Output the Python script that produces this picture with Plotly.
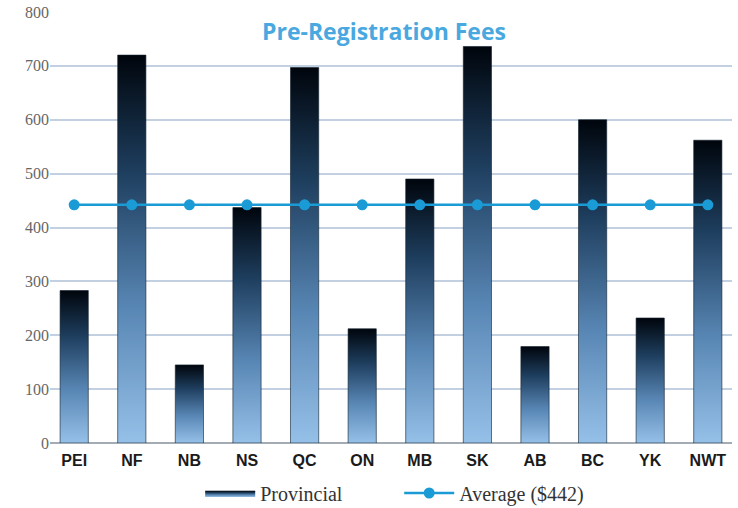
import plotly.graph_objects as go

categories = ["PEI", "NF", "NB", "NS", "QC", "ON", "MB", "SK", "AB", "BC", "YK", "NWT"]
provincial = [283, 720, 145, 437, 697, 212, 490, 736, 179, 600, 232, 562]
average_value = 442
average = [average_value] * len(categories)
y_ticks = [0, 100, 200, 300, 400, 500, 600, 700, 800]

bar_width = 0.49
gradient = [[0, "#95c0e8"], [0.35, "#5886b4"], [0.7, "#1e3e5e"], [1, "#00050c"]]

fig = go.Figure()
for i, (cat, v) in enumerate(zip(categories, provincial)):
    x0, x1 = i - bar_width / 2, i + bar_width / 2
    fig.add_trace(go.Scatter(
        x=[x0, x1, x1, x0, x0], y=[0, 0, v, v, 0],
        mode="lines", fill="toself",
        line=dict(width=0.6, color="#10202e"),
        fillgradient=dict(type="vertical", colorscale=gradient),
        name="Provincial", legendgroup="prov", showlegend=(i == 0),
        hoverinfo="text", text=f"{cat}: ${v}",
    ))

fig.add_trace(go.Scatter(
    x=list(range(len(categories))), y=average,
    mode="lines+markers", name=f"Average (${average_value})",
    line=dict(color="#1b9bd6", width=2.5),
    marker=dict(color="#1b9bd6", size=11),
))

plot_top, plot_h = 12, 431
fig.add_annotation(
    text="<b>Pre-Registration Fees</b>", x=0.49, xref="paper",
    y=1 - (31 - plot_top) / plot_h, yref="paper", yanchor="middle",
    showarrow=False, font=dict(family="Open Sans, Lato, sans-serif", size=23, color="#4aa8e0"),
)

fig.update_layout(
    width=738, height=508,
    margin=dict(l=50, r=6, t=plot_top, b=508 - plot_top - plot_h, autoexpand=False),
    paper_bgcolor="white", plot_bgcolor="white",
    showlegend=True,
    legend=dict(orientation="h", x=0.512, xanchor="center", y=-0.116, yanchor="middle",
                font=dict(family="Liberation Serif, Times New Roman, serif", size=20, color="#333"),
                itemwidth=50, entrywidth=134, traceorder="normal"),
    xaxis=dict(
        range=[-0.42, len(categories) - 1 + 0.42],
        tickvals=list(range(len(categories))), ticktext=categories,
        showgrid=False, zeroline=False, showline=False,
        tickfont=dict(family="Liberation Sans Narrow, Liberation Sans, Arial, sans-serif", size=16,
                      color="#1a1a1a", weight="bold"),
        ticks="", ticklabelstandoff=6, fixedrange=True, automargin=False,
    ),
    yaxis=dict(
        range=[0, 800], tickvals=y_ticks,
        showgrid=True, gridcolor="#c3d0e2", gridwidth=2,
        zeroline=True, zerolinecolor="#a3abb5", zerolinewidth=2,
        showline=False, ticks="",
        tickfont=dict(family="Liberation Serif, Times New Roman, serif", size=16, color="#666"),
        fixedrange=True, automargin=False,
    ),
)

fig.write_html("out.html")
